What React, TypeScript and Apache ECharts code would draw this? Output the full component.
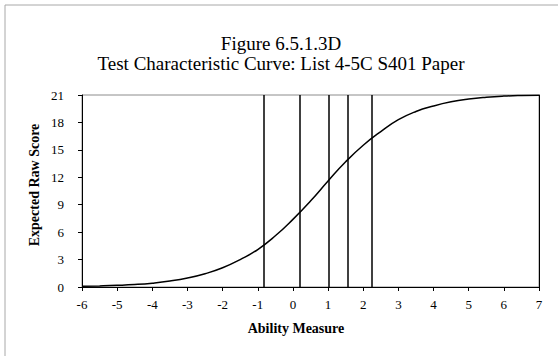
import React, { useEffect, useRef } from "react";
import * as echarts from "echarts";

const abilityPoints = [-6, -5.5, -5, -4.5, -4, -3.5, -3, -2.5, -2, -1.5, -1, -0.5, 0, 0.5, 1, 1.5, 2, 2.5, 3, 3.5, 4, 4.5, 5, 5.5, 6, 6.5, 7];
const expectedScores = [0.08, 0.12, 0.18, 0.27, 0.42, 0.65, 0.98, 1.45, 2.1, 3.0, 4.1, 5.6, 7.4, 9.4, 11.6, 13.7, 15.5, 17.0, 18.3, 19.2, 19.8, 20.25, 20.55, 20.75, 20.88, 20.95, 20.98];
const cutPoints = [-0.83, 0.2, 1.02, 1.56, 2.25];
const titleLines = ["Figure 6.5.1.3D", "Test Characteristic Curve: List 4-5C S401 Paper"];
const xAxisTitle = "Ability Measure";
const yAxisTitle = "Expected Raw Score";

const FONT = "'Liberation Serif', 'Times New Roman', serif";

export default function App() {
  const ref = useRef<HTMLDivElement>(null);
  useEffect(() => {
    if (!ref.current) return;
    const chart = echarts.init(ref.current, undefined, { renderer: "svg" });
    chart.setOption({
      animation: false,
      backgroundColor: "#ffffff",
      textStyle: { fontFamily: FONT },
      title: {
        text: titleLines.join("\n"),
        left: 276,
        top: 28,
        textAlign: "center",
        textStyle: { fontFamily: FONT, fontSize: 19, fontWeight: "normal", color: "#000", lineHeight: 20 },
      },
      grid: { left: 82, right: 19, top: 95, bottom: 69, show: true, borderColor: "#8c8c8c", borderWidth: 1, backgroundColor: "transparent" },
      xAxis: {
        type: "value",
        min: -6,
        max: 7,
        interval: 1,
        axisLine: { show: true, onZero: false, lineStyle: { color: "#000", width: 1 } },
        axisTick: { show: true, length: 4, inside: false, lineStyle: { color: "#000" } },
        axisLabel: { fontFamily: FONT, fontSize: 13, color: "#000", margin: 11 },
        splitLine: { show: false },
      },
      yAxis: [
        {
          type: "value",
          position: "left",
          min: 0,
          max: 21,
          interval: 3,
          axisLine: { show: true, onZero: false, lineStyle: { color: "#000", width: 1 } },
          axisTick: { show: true, length: 4, inside: false, lineStyle: { color: "#000" } },
          axisLabel: { fontFamily: FONT, fontSize: 13, color: "#000", margin: 18 },
          splitLine: { show: false },
        },
        {
          type: "value",
          position: "right",
          min: 0,
          max: 21,
          interval: 3,
          axisLine: { show: true, onZero: false, lineStyle: { color: "#000", width: 1 } },
          axisTick: { show: false },
          axisLabel: { show: false },
          splitLine: { show: false },
        },
      ],
      graphic: [
        { type: "rect", shape: { x: 5, y: 5, width: 620, height: 420 }, style: { fill: "none", stroke: "#a8a8a8", lineWidth: 1 }, silent: true },
        { type: "text", x: 296, y: 328, style: { text: xAxisTitle, font: `bold 14px ${FONT}`, fill: "#000", textAlign: "center", textVerticalAlign: "middle" } },
        { type: "text", x: 34, y: 185, rotation: Math.PI / 2, style: { text: yAxisTitle, font: `bold 14px ${FONT}`, fill: "#000", textAlign: "center", textVerticalAlign: "middle" } },
      ],
      series: [
        {
          type: "line",
          smooth: true,
          showSymbol: false,
          symbol: "none",
          data: abilityPoints.map((x, i) => [x, expectedScores[i]]),
          lineStyle: { color: "#000", width: 1.5 },
          markLine: {
            silent: true,
            symbol: ["none", "none"],
            label: { show: false },
            lineStyle: { color: "#000", width: 1.5, type: "solid" },
            data: cutPoints.map((x) => ({ xAxis: x })),
          },
        },
      ],
    });
    return () => chart.dispose();
  }, []);
  return <div ref={ref} style={{ position: "absolute", left: 0, top: 0, width: 558, height: 356 }} />;
}
